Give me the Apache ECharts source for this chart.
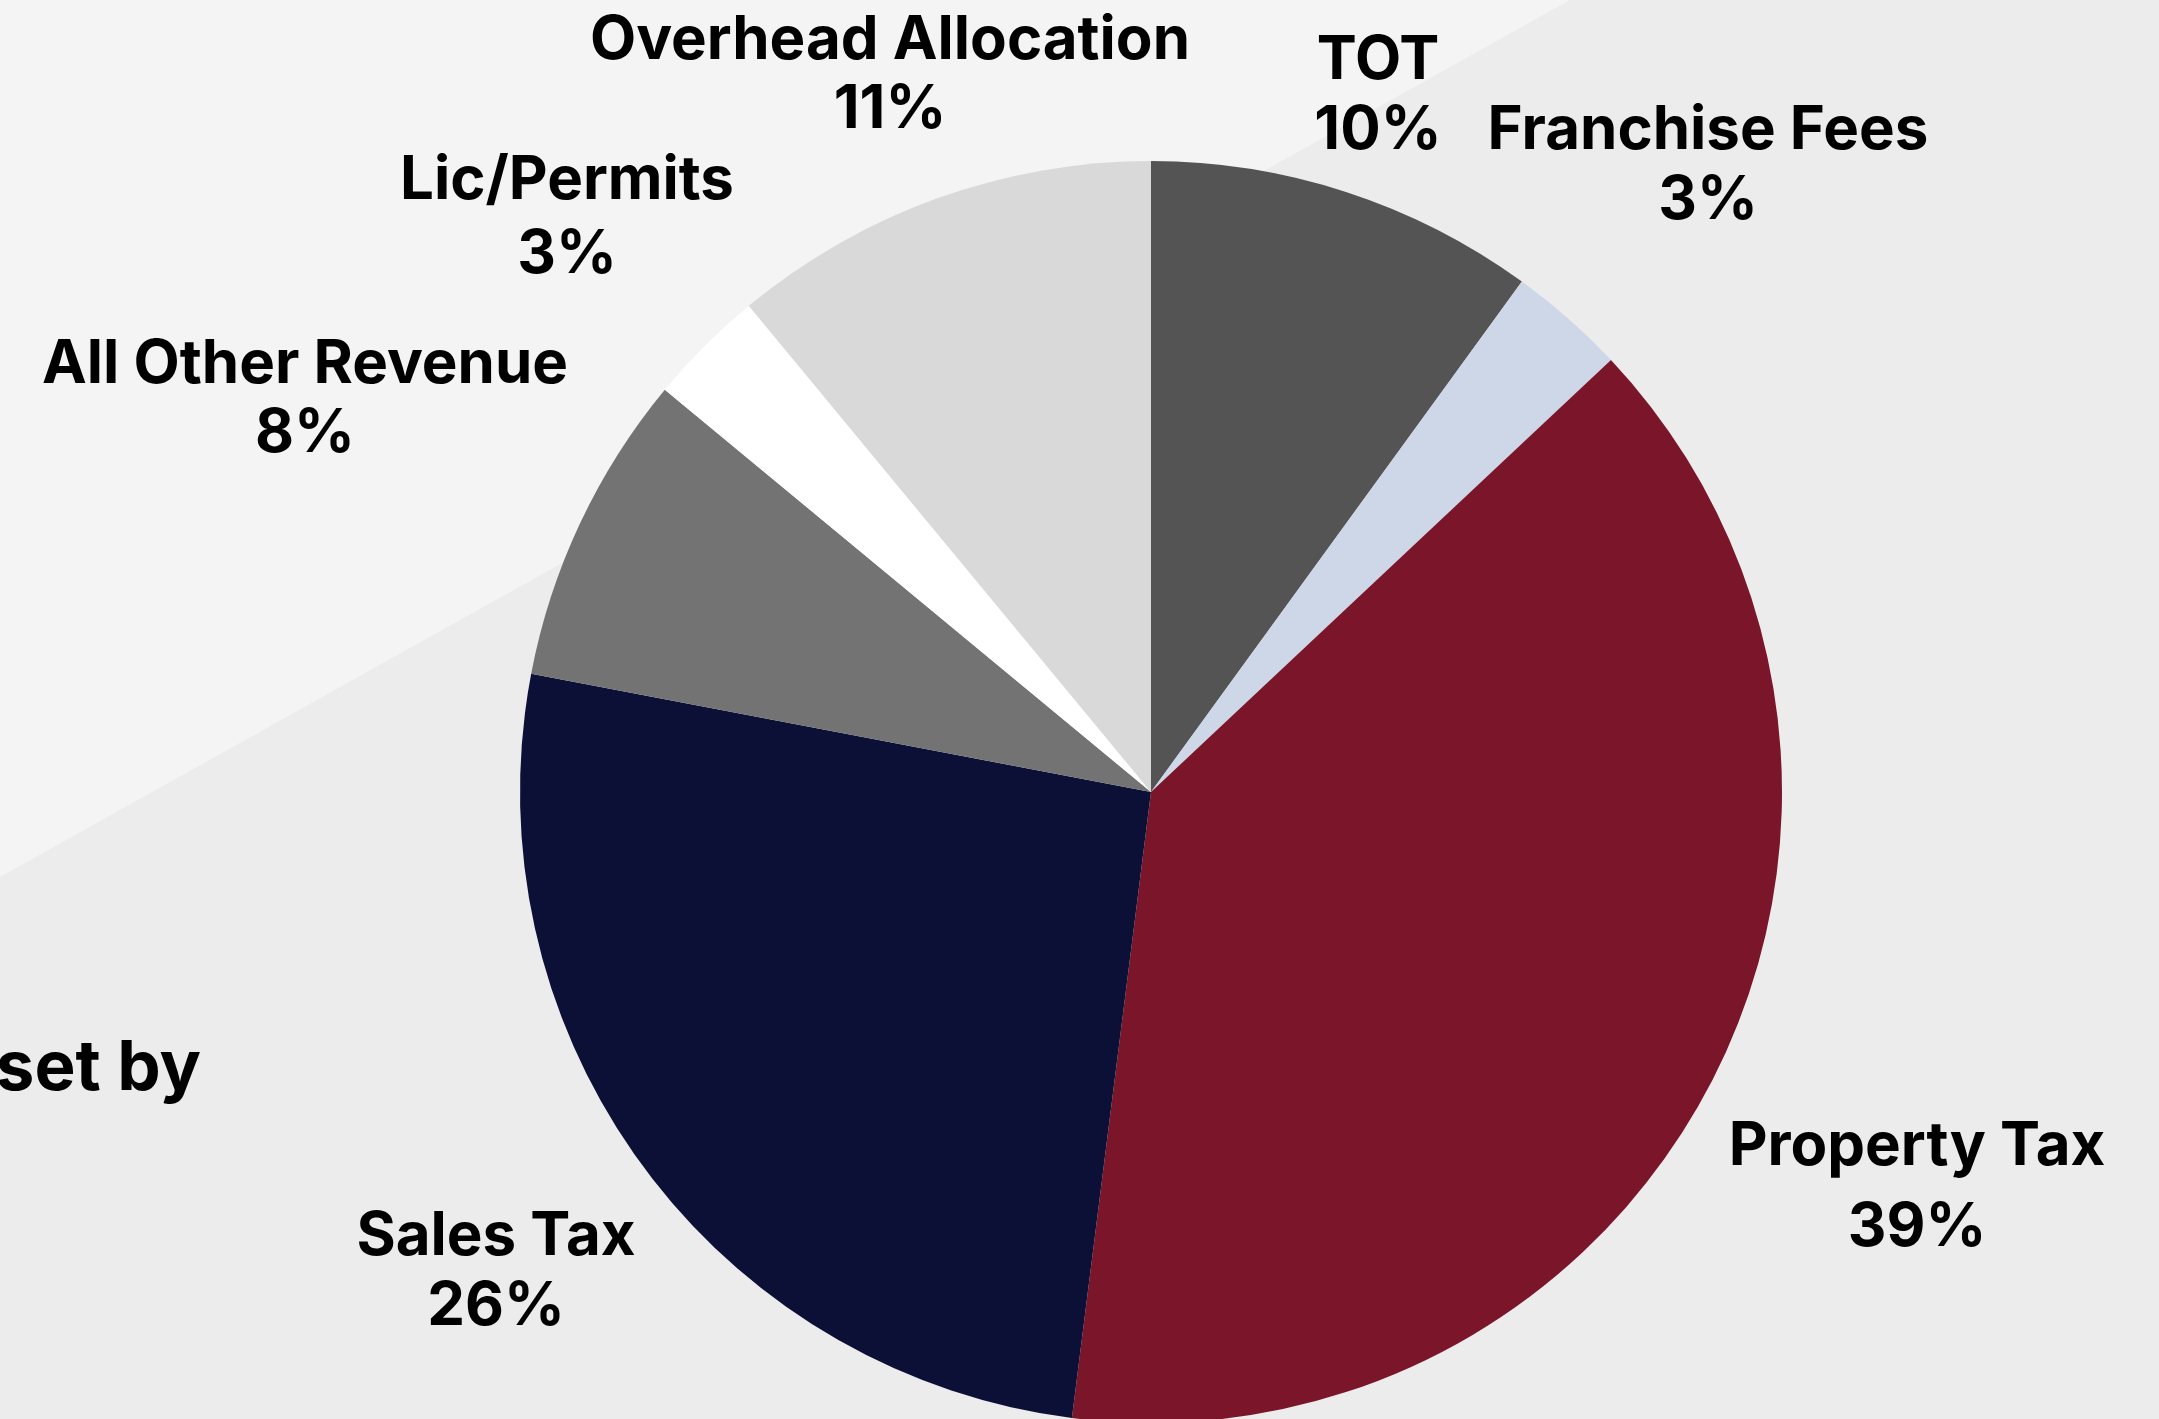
<!DOCTYPE html>
<html>
<head>
<meta charset="utf-8">
<script src="https://cdn.jsdelivr.net/npm/echarts@6/dist/echarts.min.js"></script>
<style>
  html, body { margin: 0; padding: 0; background: #ececec; }
  #main { width: 2159px; height: 1419px; }
</style>
</head>
<body>
<div id="main"></div>
<script>
  // revenue share by source, percent (clockwise from 12 o'clock)
  var categories = ['TOT', 'Franchise Fees', 'Property Tax', 'Sales Tax', 'All Other Revenue', 'Lic/Permits', 'Overhead Allocation']
  var shares = [10, 3, 39, 26, 8, 3, 11]
  var sliceColors = ['#545454', '#cdd7e8', '#7b1529', '#0d1036', '#737373', '#ffffff', '#d9d9d9']

  // where each label block sits (center of the two lines) and its line spacing
  var labelPos = [[1378, 96], [1708, 166], [1917, 1187], [496, 1272], [305, 399], [567, 218], [890, 75]]
  var labelGap = [70, 70, 81, 70, 69, 74, 69]

  var chart = echarts.init(document.getElementById('main'))

  var pieData = categories.map(function (name, i) {
    return {
      name: name,
      value: shares[i],
      itemStyle: { color: sliceColors[i] },
      label: { lineHeight: labelGap[i] }
    }
  })

  chart.setOption({
    backgroundColor: '#ececec',
    animation: false,
    graphic: [
      {
        type: 'polygon',
        z: -10,
        shape: { points: [[0, 0], [1570, 0], [0, 877]] },
        style: { fill: '#f4f4f4' },
        silent: true
      },
      {
        type: 'text',
        x: 201,
        y: 1069,
        style: {
          text: 'set by',
          font: 'bold 69px Inter',
          fill: '#000000',
          align: 'right',
          verticalAlign: 'middle'
        },
        silent: true
      }
    ],
    series: [
      {
        name: 'Revenue',
        type: 'pie',
        center: [1151, 792],
        radius: 631,
        startAngle: 90,
        clockwise: true,
        avoidLabelOverlap: false,
        silent: true,
        label: {
          show: true,
          formatter: '{b}\n{c}%',
          color: '#000000',
          fontFamily: 'Inter',
          fontWeight: 'bold',
          fontSize: 60,
          align: 'center'
        },
        labelLine: { show: false },
        labelLayout: function (params) {
          var p = labelPos[params.dataIndex]
          return { x: p[0], y: p[1], align: 'center', verticalAlign: 'middle' }
        },
        data: pieData
      }
    ]
  })
</script>
</body>
</html>
